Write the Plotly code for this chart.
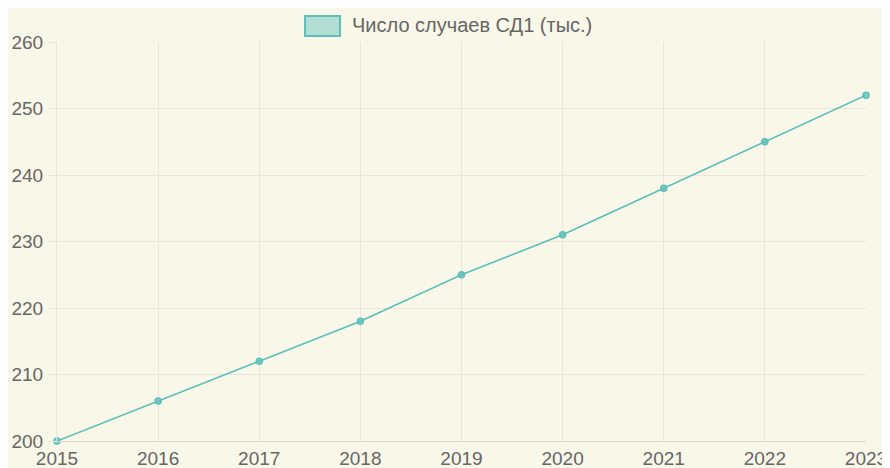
import plotly.graph_objects as go

years = [2015, 2016, 2017, 2018, 2019, 2020, 2021, 2022, 2023]
cases = [200, 206, 212, 218, 225, 231, 238, 245, 252]
series_name = "Число случаев СД1 (тыс.)"

teal = "#5bbfbc"
cream = "#f9f7e8"
grid = "#e9e6d6"
txt = "#666666"

fig = go.Figure()
fig.add_trace(go.Scatter(
    x=years, y=cases, mode="lines+markers", name=series_name,
    line=dict(color=teal, width=1.6),
    marker=dict(size=6, color="rgba(91,191,188,0.75)", line=dict(color=teal, width=1.5)),
    cliponaxis=False, showlegend=False,
))

# легенда в стиле Chart.js
fig.add_shape(type="rect", xref="paper", yref="paper", x0=0.3066, x1=0.3498, y0=1.015, y1=1.0652,
              fillcolor="rgba(91,191,188,0.45)", line=dict(color=teal, width=2))
fig.add_annotation(xref="paper", yref="paper", x=0.3622, y=1.0426, text=series_name,
                   showarrow=False, xanchor="left", yanchor="middle",
                   font=dict(size=20, color=txt))

fig.update_layout(
    width=882, height=460,
    margin=dict(l=49, r=24, t=34, b=27),
    paper_bgcolor=cream, plot_bgcolor=cream,
    font=dict(family="Liberation Sans, Arial, sans-serif", color=txt),
)
fig.update_xaxes(range=[2015, 2023], tickvals=years, showgrid=True, gridcolor=grid,
                 ticks="", zeroline=False,
                 showline=True, linecolor="#dcd8c6", linewidth=1, automargin=False,
                 tickfont=dict(size=19, color=txt), ticklabelstandoff=0)
fig.update_yaxes(range=[200, 260], dtick=10, showgrid=True, gridcolor=grid,
                 ticks="outside", ticklen=8, tickcolor=grid, zeroline=False,
                 showline=True, linecolor=grid, automargin=False,
                 tickfont=dict(size=19, color=txt), ticklabelstandoff=1)

fig.write_html("out.html")
